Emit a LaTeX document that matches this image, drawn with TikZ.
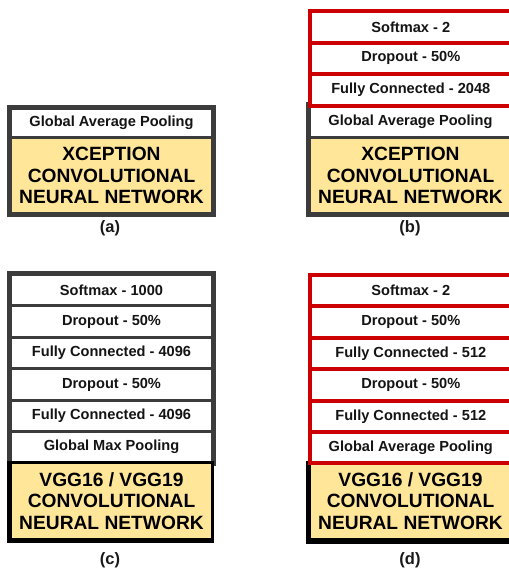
\documentclass[tikz,border=0pt]{standalone}
\usepackage{fontspec}
\setmainfont{Liberation Sans}
\definecolor{framegray}{HTML}{3C3C3C}
\definecolor{redline}{HTML}{CC0000}
\definecolor{yel}{HTML}{FFE699}
\begin{document}
\begin{tikzpicture}[x=1pt,y=-1pt,
  row/.style={draw=framegray, line width=3pt, fill=white, minimum width=202pt,
    inner sep=0pt, anchor=north west, text=black!92,
    font=\fontsize{14.6}{17}\selectfont\bfseries},
  redrow/.style={row, draw=redline, line width=3.6pt},
  cnn/.style={draw=framegray, line width=3pt, fill=yel, minimum width=202pt,
    inner sep=0pt, anchor=north west, align=center, text=black,
    font=\fontsize{19.2}{21.8}\selectfont\bfseries},
  cnnblack/.style={cnn, draw=black},
  outer/.style={draw=framegray, line width=4pt},
  caption/.style={font=\fontsize{16.5}{19}\selectfont\bfseries, text=black!90}
]
\useasboundingbox (0,0) rectangle (509,574);

% ---------- (a)
\node[row, minimum height=29pt] (agap) at (9,107) {Global Average Pooling};
\node[cnn, minimum height=76pt] (acnn) at (9,136) {XCEPTION\\CONVOLUTIONAL\\NEURAL NETWORK};
\draw[outer] (agap.north west) rectangle (acnn.south east);
\node[caption] (alab) at (110,228) {(a)};

% ---------- (b)
\node[row, minimum height=32pt] (bgap) at (308,104) {Global Average Pooling};
\node[cnn, minimum height=76pt] (bcnn) at (308,136) {XCEPTION\\CONVOLUTIONAL\\NEURAL NETWORK};
\draw[outer] (bgap.north west) rectangle (bcnn.south east);
\node[redrow, minimum height=32pt] (bsm) at (308,9) {Softmax - 2};
\node[redrow, minimum height=31pt] (bdr) at (308,41) {Dropout - 50\%};
\node[redrow, minimum height=32pt] (bfc) at (308,72) {Fully Connected - 2048};
\node[caption] (blab) at (410,228) {(b)};

% ---------- (c)
\node[row, minimum height=31pt] (csm) at (9,273) {Softmax - 1000};
\node[row, minimum height=32pt] (cdr1) at (9,304) {Dropout - 50\%};
\node[row, minimum height=31pt] (cfc1) at (9,336) {Fully Connected - 4096};
\node[row, minimum height=32pt] (cdr2) at (9,367) {Dropout - 50\%};
\node[row, minimum height=31pt] (cfc2) at (9,399) {Fully Connected - 4096};
\node[row, minimum height=31pt] (cgmp) at (9,430) {Global Max Pooling};
\draw[outer] (csm.north west) rectangle (cgmp.south east);
\node[cnnblack, minimum height=77pt] (ccnn) at (9,461) {VGG16 / VGG19\\CONVOLUTIONAL\\NEURAL NETWORK};
\draw[black, line width=4pt] (ccnn.north west) -- (ccnn.south west) -- (ccnn.south east);
\node[caption] (clab) at (110,560) {(c)};

% ---------- (d)
\node[cnnblack, minimum height=77pt] (dcnn) at (308,461) {VGG16 / VGG19\\CONVOLUTIONAL\\NEURAL NETWORK};
\draw[black, line width=5pt] (dcnn.north west) -- (dcnn.south west) -- (dcnn.south east);
\node[redrow, minimum height=31pt] (dsm) at (308,273) {Softmax - 2};
\node[redrow, minimum height=32pt] (ddr1) at (308,304) {Dropout - 50\%};
\node[redrow, minimum height=31pt] (dfc1) at (308,336) {Fully Connected - 512};
\node[redrow, minimum height=32pt] (ddr2) at (308,367) {Dropout - 50\%};
\node[redrow, minimum height=31pt] (dfc2) at (308,399) {Fully Connected - 512};
\node[redrow, minimum height=31pt] (dgap) at (308,430) {Global Average Pooling};
\node[caption] (dlab) at (410,560) {(d)};
\end{tikzpicture}
\end{document}
